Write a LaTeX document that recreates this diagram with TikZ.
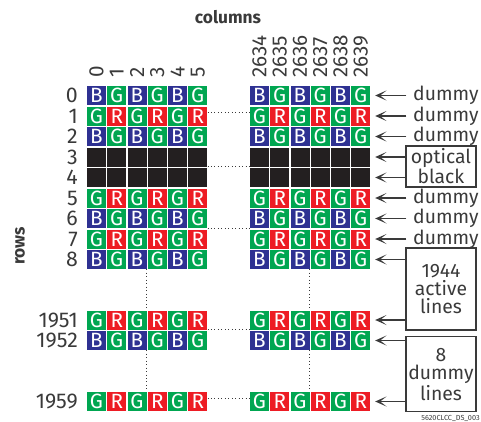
\documentclass[tikz,border=0pt]{standalone}
\usepackage{fontspec}
\setmainfont{Fira Sans}
\usetikzlibrary{arrows.meta,positioning}

\definecolor{pixB}{HTML}{2E3192}
\definecolor{pixG}{HTML}{00A651}
\definecolor{pixR}{HTML}{ED1C24}
\definecolor{pixK}{HTML}{231F20}
\definecolor{ink}{HTML}{3A3A3A}

\def\blackcell{K}

\tikzset{
  cell/.style={minimum size=14.25pt,inner sep=0pt,fill=pix#1,text=white,font=\fontsize{15.5}{15.5}\selectfont},
  rowlabel/.style={inner sep=0pt,text=ink,font=\fontsize{16}{16}\selectfont},
  collabel/.style={inner sep=0pt,text=ink,font=\fontsize{15.5}{15.5}\selectfont,anchor=west,rotate=90},
  title/.style={inner sep=0pt,text=ink,font=\bfseries\fontsize{13}{13}\selectfont},
  tag/.style={anchor=west,inner xsep=5pt,inner ysep=0pt,text=ink,font=\fontsize{14.5}{14.5}\selectfont},
  tagbox/.style={draw=ink,line width=0.8pt,align=center,inner sep=0pt,minimum width=52.5pt,text=ink,font=\fontsize{14.5}{13.8}\selectfont},
  pointer/.style={-{Stealth[length=8.5pt,width=7.5pt,inset=4.8pt]},draw=ink,line width=0.8pt,shorten >=3.5pt},
  gapline/.style={draw=ink,dotted,line width=0.6pt}
}

\begin{document}
\begin{tikzpicture}[x=0.75pt,y=-0.75pt]
\useasboundingbox (0,0) rectangle (481,421);

% pixel rows: index / label / top / even colour / odd colour
\foreach \r/\lab/\ypos/\ev/\od in {0/0/86/B/G, 1/1/106.5/G/R, 2/2/127/B/G, 3/3/147.5/K/K,
    4/4/168/K/K, 5/5/188.5/G/R, 6/6/209/B/G, 7/7/229.5/G/R, 8/8/250/B/G,
    9/1951/310.5/G/R, 10/1952/331/B/G, 11/1959/392/G/R}{
  \foreach \c in {0,...,5}{
    \ifodd\c\relax \edef\letter{\od}\else \edef\letter{\ev}\fi
    \node[cell=\letter] (L-\r-\c) at ({96.5+20.25*\c},{\ypos+9.5}) {\ifx\letter\blackcell\else\letter\fi};
    \node[cell=\letter] (R-\r-\c) at ({259.5+20.25*\c},{\ypos+9.5}) {\ifx\letter\blackcell\else\letter\fi};
  }
  \node[rowlabel,left=6.5pt of L-\r-0] (lab-\r) {\lab};
}

% column numbers
\foreach \c in {0,...,5}
  \node[above=6pt of L-0-\c,collabel] (top-L-\c) {\c};
\foreach \c [evaluate=\c as \num using int(2634+\c)] in {0,...,5}
  \node[above=6pt of R-0-\c,collabel] (top-R-\c) {\num};

\node[title] (coltitle) at (228,17) {columns};
\node[title,rotate=90] (rowtitle) at (20,246) {rows};

% skipped columns and rows
\draw[gapline] ([yshift=2.6pt]L-1-5.east) -- ([yshift=2.6pt]R-1-0.west);
\draw[gapline] (L-3-5.south east) -- (R-3-0.south west);
\draw[gapline] (L-6-5.south east) -- (R-6-0.south west);
\draw[gapline] (L-9-5.south east) -- (R-9-0.south west);
\draw[gapline] ([yshift=2.6pt]L-11-5.east) -- ([yshift=2.6pt]R-11-0.west);
\draw[gapline] (L-8-2.south east) -- (L-9-2.north east);
\draw[gapline] (L-10-2.south east) -- (L-11-2.north east);
\draw[gapline] (R-8-2.south east) -- (R-9-2.north east);
\draw[gapline] (R-10-2.south east) -- (R-11-2.north east);

% row tags
\foreach \r in {0,1,2,5,6,7}{
  \node[right=26.8pt of R-\r-5,tag] (tag-\r) {dummy};
  \draw[pointer] (tag-\r) -- (R-\r-5);
}
\node[tagbox,minimum height=30.75pt] (optblack) at (441,166.5) {optical\\black};
\node[tagbox,minimum height=61.5pt] (active) at (441,289) {1944\\active\\lines};
\node[tagbox,minimum height=56.25pt] (dumlines) at (441,374.2) {8\\dummy\\lines};
\draw[pointer] (optblack.west |- R-3-5) -- (R-3-5);
\draw[pointer] (optblack.west |- R-4-5) -- (R-4-5);
\draw[pointer] (active.west |- R-8-5) -- (R-8-5);
\draw[pointer] (active.west |- R-9-5) -- (R-9-5);
\draw[pointer] (dumlines.west |- R-10-5) -- (R-10-5);
\draw[pointer] (dumlines.west |- R-11-5) -- (R-11-5);

\node[inner sep=0pt,anchor=east,text=ink,font=\fontsize{5.5}{5.5}\selectfont] (docid) at (480,418.5) {5620CLCC\_DS\_003};
\end{tikzpicture}
\end{document}
